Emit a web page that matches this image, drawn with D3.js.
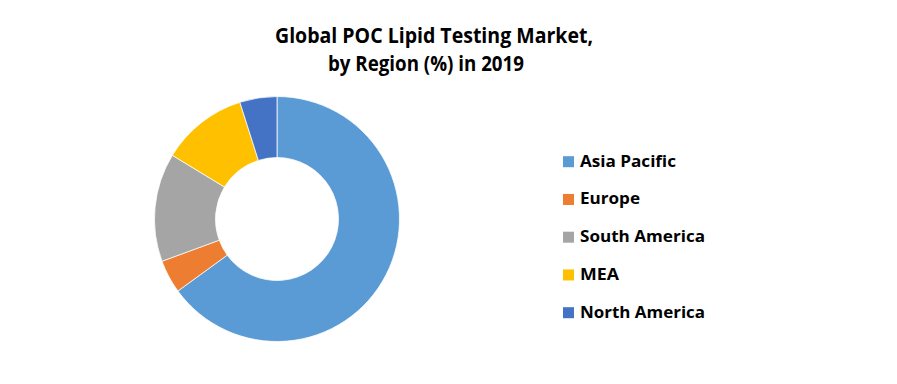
<!DOCTYPE html>
<html>
<head>
<meta charset="utf-8">
<script src="https://cdn.jsdelivr.net/npm/d3@7"></script>
<style>
  html, body { margin: 0; padding: 0; background: #fff; }
  svg { display: block; }
  text { font-family: "Open Sans", Lato, "DejaVu Sans", sans-serif; font-weight: 700; fill: #000; }
</style>
</head>
<body>
<svg id="chart" width="897" height="384"></svg>
<script>
const categories = ["Asia Pacific", "Europe", "South America", "MEA", "North America"];
const values = [65.0, 4.4, 14.3, 11.4, 4.9];
const colors = ["#5B9BD5", "#ED7D31", "#A5A5A5", "#FFC000", "#4472C4"];
const titleLines = ["Global POC Lipid Testing Market,", "by Region (%) in 2019"];

const svg = d3.select("#chart");
const W = 897, H = 384;
svg.append("rect").attr("width", W).attr("height", H).attr("fill", "#fff");

// Title
const titleX = [434, 426];
const titleY = [42.5, 70.5];
const titleW = [318, 196];
titleLines.forEach((t, i) => {
  svg.append("text")
    .attr("x", titleX[i]).attr("y", titleY[i])
    .attr("text-anchor", "middle")
    .attr("font-size", 21)
    .attr("textLength", titleW[i])
    .attr("lengthAdjust", "spacingAndGlyphs")
    .text(t);
});

// Donut
const cx = 277, cy = 219, rOuter = 122.5, rInner = 61.5;
const data = categories.map((c, i) => ({ cat: c, value: values[i], color: colors[i] }));
const pie = d3.pie().value(d => d.value).sort(null);
const arc = d3.arc().innerRadius(rInner).outerRadius(rOuter);
const g = svg.append("g").attr("transform", `translate(${cx},${cy})`);
g.selectAll("path")
  .data(pie(data))
  .join("path")
  .attr("d", arc)
  .attr("fill", d => d.data.color)
  .attr("stroke", "#fff")
  .attr("stroke-width", 0.75);

// Legend
const legendY = d3.scalePoint().domain(categories).range([161.7, 312.7]);
const legendW = [96, 60, 125, 39, 125];
const lg = svg.append("g");
categories.forEach((c, i) => {
  const y = legendY(c);
  lg.append("rect")
    .attr("x", 563).attr("y", y - 5.5)
    .attr("width", 11).attr("height", 11)
    .attr("fill", colors[i]);
  lg.append("text")
    .attr("x", 580).attr("y", y + 5)
    .attr("font-size", 16)
    .attr("textLength", legendW[i])
    .attr("lengthAdjust", "spacingAndGlyphs")
    .text(c);
});
</script>
</body>
</html>
